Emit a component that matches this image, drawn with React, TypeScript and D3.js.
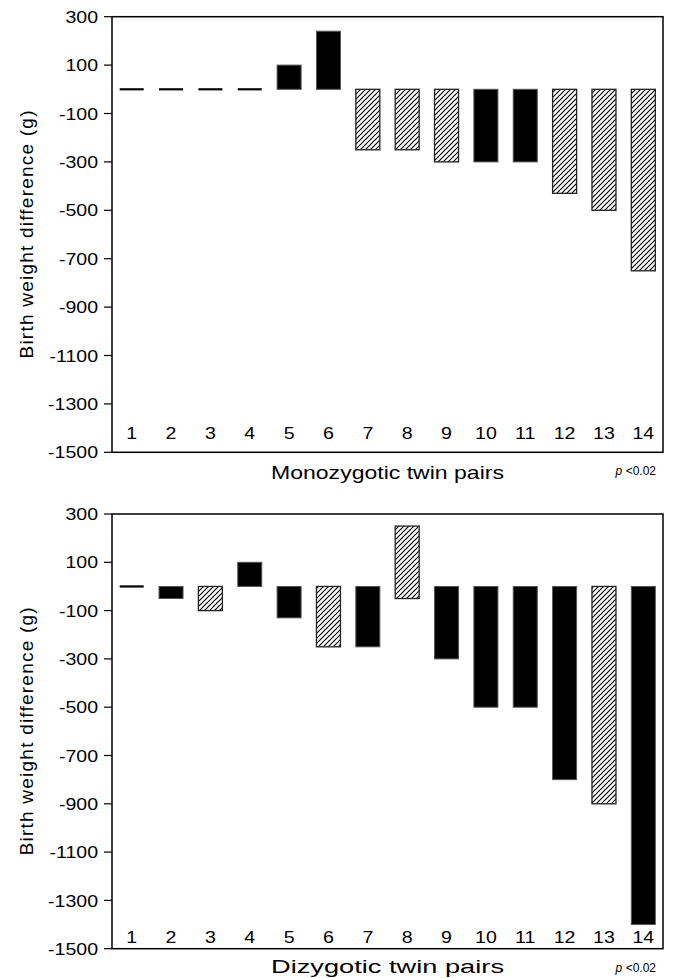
import * as d3 from "d3";

const W = 674;
const H = 978;
const FONT = "'Liberation Sans', Arial, Helvetica, sans-serif";

// twin pair numbers along the x axis
const pairs = ["1", "2", "3", "4", "5", "6", "7", "8", "9", "10", "11", "12", "13", "14"];
const yTicks = [300, 100, -100, -300, -500, -700, -900, -1100, -1300, -1500];

// monozygotic pairs: birth weight difference (g)
const mzStart = [0, 0, 0, 0, 0, 0, 0, 0, 0, 0, 0, 0, 0, 0];
const mzValues = [0, 0, 0, 0, 100, 240, -250, -250, -300, -300, -300, -430, -500, -750];
const mzHatched = [false, false, false, false, false, false, true, true, true, false, false, true, true, true];

// dizygotic pairs (pair 8 floats from -50 to 250)
const dzStart = [0, 0, 0, 0, 0, 0, 0, -50, 0, 0, 0, 0, 0, 0];
const dzValues = [0, -50, -100, 100, -130, -250, -250, 250, -300, -500, -500, -800, -900, -1400];
const dzHatched = [false, false, true, false, false, true, false, true, false, false, false, false, true, false];

const LEFT = 112;
const RIGHT = 663;
const SX = 1.15; // the reference text is a bit wide

const Panel = ({ top, bottom, starts, values, hatched, title, labelY, titleY }) => {
  const x = d3.scaleBand().domain(pairs).range([LEFT, RIGHT]).paddingInner(0.39).paddingOuter(0.195);
  const y = d3.scaleLinear().domain([-1500, 300]).range([bottom, top]);
  const bw = x.bandwidth();

  return (
    <g>
      {pairs.map((p, i) => {
        const a = y(starts[i]);
        const b = y(values[i]);
        if (starts[i] === values[i]) {
          return <rect key={p} x={x(p)} y={a - 1.1} width={bw} height={2.2} fill="#000" />;
        }
        return (
          <rect
            key={p}
            x={x(p)}
            y={Math.min(a, b)}
            width={bw}
            height={Math.abs(a - b)}
            fill={hatched[i] ? "url(#hatch)" : "#000"}
            stroke={hatched[i] ? "#222" : "#555"}
            strokeWidth={hatched[i] ? 1.3 : 1}
          />
        );
      })}

      <rect x={LEFT} y={top} width={RIGHT - LEFT} height={bottom - top} fill="none" stroke="#000" strokeWidth={1.5} />

      {yTicks.map((t) => (
        <g key={t}>
          <line x1={LEFT - 8} x2={LEFT} y1={y(t)} y2={y(t)} stroke="#000" strokeWidth={1.2} />
          <text
            transform={`translate(${LEFT - 14},${y(t)}) scale(${SX},1)`}
            dy="0.36em"
            textAnchor="end"
            fontSize={17}
          >
            {t}
          </text>
        </g>
      ))}

      {pairs.map((p) => (
        <text
          key={p}
          transform={`translate(${x(p) + bw / 2},${labelY}) scale(${SX},1)`}
          textAnchor="middle"
          fontSize={17}
        >
          {p}
        </text>
      ))}

      <text
        transform={`translate(26,${(top + bottom) / 2}) rotate(-90)`}
        dy="0.35em"
        textAnchor="middle"
        fontSize={19}
        textLength={248}
        lengthAdjust="spacing"
      >
        Birth weight difference (g)
      </text>

      <text
        x={(LEFT + RIGHT) / 2}
        y={titleY}
        textAnchor="middle"
        fontSize={19}
        textLength={233}
        lengthAdjust="spacingAndGlyphs"
      >
        {title}
      </text>

      <text x={RIGHT - 7} y={bottom + 23} textAnchor="end" fontSize={12}>
        <tspan fontStyle="italic">p</tspan>
        <tspan> &lt;0.02</tspan>
      </text>
    </g>
  );
};

export default function App() {
  return (
    <svg
      width={W}
      height={H}
      style={{ position: "absolute", left: 0, top: 0, background: "#fff" }}
      fontFamily={FONT}
    >
      <defs>
        <pattern id="hatch" patternUnits="userSpaceOnUse" width={5} height={5}>
          <rect width={5} height={5} fill="#fff" />
          <path d="M0,5 L5,0 M-1,1 L1,-1 M4,6 L6,4" stroke="#000" strokeWidth={1.2} />
        </pattern>
      </defs>
      <rect width={W} height={H} fill="#fff" />
      <Panel
        top={16.7}
        bottom={452.3}
        starts={mzStart}
        values={mzValues}
        hatched={mzHatched}
        title="Monozygotic twin pairs"
        labelY={439}
        titleY={479}
      />
      <Panel
        top={514}
        bottom={948.7}
        starts={dzStart}
        values={dzValues}
        hatched={dzHatched}
        title="Dizygotic twin pairs"
        labelY={943}
        titleY={973}
      />
    </svg>
  );
}
